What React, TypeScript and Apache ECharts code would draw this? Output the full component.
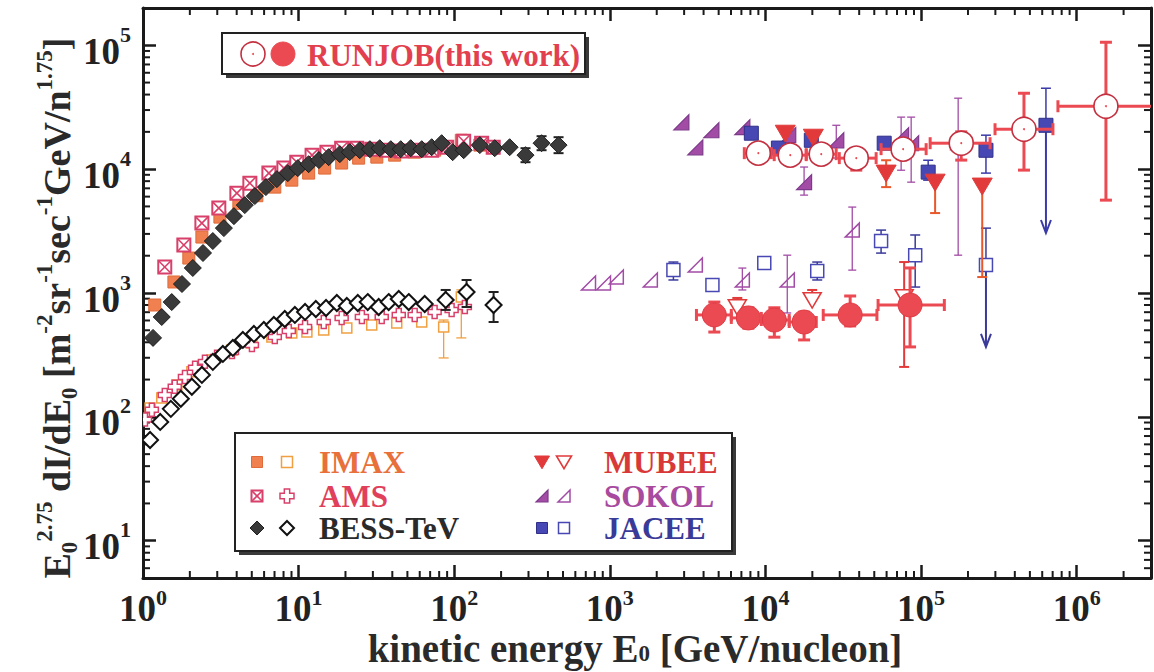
import React, { useEffect, useRef } from 'react';
import * as echarts from 'echarts';

const FONT = '"Liberation Serif", "Times New Roman", Times, serif';

// ---------- axes ----------
const X_MIN = 1;
const X_MAX = 3e6;
const Y_MIN = 5;
const Y_MAX = 2e5;
const MANTISSAS = [2, 3, 4, 5, 6, 7, 8, 9];
const X_DECADES = [1, 10, 100, 1000, 1e4, 1e5, 1e6];
const Y_DECADES = [1, 10, 100, 1000, 1e4, 1e5];

// ---------- BESS-TeV ----------
const bessFilledE = [1.16, 1.32, 1.53, 1.78, 2.09, 2.43, 2.81, 3.31, 3.84, 4.51, 5.23, 6.16, 7.25, 8.52, 9.88, 11.6, 13.5, 15.6, 18.4, 21.3, 24.7, 28.7, 33.2, 39.1, 45.3, 52.5, 61.8, 71.6, 83.0, 97.7, 115, 146, 182, 227, 287, 364, 468];
const bessFilledV = [434, 640, 845, 1182, 1592, 2104, 2627, 3342, 4175, 5124, 6059, 7164, 8303, 9282, 10190, 10970, 11830, 12500, 13220, 13710, 14220, 14490, 14760, 14490, 14490, 14760, 14490, 15030, 16200, 13710, 14220, 15630, 14760, 15030, 12970, 16200, 15630];
const bessFilledVLo = [null, null, null, null, null, null, null, null, null, null, null, null, null, null, null, null, null, null, null, null, null, null, null, null, null, null, null, null, null, null, null, null, null, null, 11380, 14220, 13460];
const bessFilledVHi = [null, null, null, null, null, null, null, null, null, null, null, null, null, null, null, null, null, null, null, null, null, null, null, null, null, null, null, null, null, null, null, null, null, null, 14760, 18450, 18110];

const bessOpenE = [1.11, 1.29, 1.51, 1.75, 2.06, 2.39, 2.81, 3.26, 3.78, 4.38, 5.16, 5.98, 6.93, 8.15, 9.46, 11.0, 12.9, 15.0, 17.6, 20.4, 24.0, 27.8, 32.7, 37.9, 44.0, 51.0, 64.6, 88.1, 120, 179];
const bessOpenV = [65, 91, 116, 140, 175, 218, 278, 322, 360, 418, 467, 503, 552, 617, 665, 703, 743, 757, 830, 785, 830, 845, 771, 845, 895, 845, 815, 879, 1019, 800];
const bessOpenVLo = [null, null, null, null, null, null, null, null, null, null, null, null, null, null, null, null, null, null, null, null, null, null, null, null, null, null, null, 730, 771, 583];
const bessOpenVHi = [null, null, null, null, null, null, null, null, null, null, null, null, null, null, null, null, null, null, null, null, null, null, null, null, null, null, null, 1058, 1274, 1019];

// ---------- IMAX ----------
const imaxFilledE = [1.19, 1.58, 1.97, 2.39, 3.12, 4.13, 5.39, 7.03, 9.04, 11.6, 14.7, 18.9, 24.3, 31.8, 41.4, 55.7, 74.8, 111, 146];
const imaxFilledV = [800, 1227, 1915, 2830, 4100, 5300, 6100, 7160, 8150, 9290, 10200, 11200, 12270, 12500, 12970, 13710, 14220, 17100, 15630];

const imaxOpenE = [1.11, 1.32, 1.65, 2.06, 2.77, 3.73, 5.01, 6.73, 9.04, 11.3, 14.5, 20.4, 29.5, 42.7, 61.8, 85.5, 111];
const imaxOpenV = [118, 142, 181, 231, 288, 347, 395, 442, 476, 484, 503, 522, 552, 573, 583, 532, 929];
const imaxOpenVLo = [null, null, null, null, null, null, null, null, null, null, null, null, null, null, null, 299, 434];
const imaxOpenVHi = [null, null, null, null, null, null, null, null, null, null, null, null, null, null, null, 605, 1060];

// ---------- AMS ----------
const amsFilledE = [1.38, 1.83, 2.39, 3.07, 4.01, 4.86, 6.44, 8.04, 9.73, 12.2, 15.2, 18.9, 23.6, 29.5, 36.8, 45.9, 57.4, 71.6, 89.4, 115, 150, 178];
const amsFilledV = [1622, 2440, 3670, 4850, 6400, 7710, 9290, 10200, 11380, 12970, 13700, 14760, 14760, 14490, 14220, 13980, 14220, 14220, 15030, 16800, 16200, 15030];

const amsOpenE = [1.03, 1.14, 1.38, 1.60, 1.86, 2.16, 2.50, 2.99, 3.73, 5.01, 7.03, 8.65, 11.0, 14.5, 18.9, 25.5, 34.2, 44.0, 55.7, 74.8, 96.2, 117];
const amsOpenV = [95, 114, 150, 175, 210, 249, 278, 305, 334, 381, 442, 494, 532, 583, 628, 640, 640, 665, 665, 703, 730, 771];

// ---------- RUNJOB ----------
const runjobOpenE = [8990, 14420, 22800, 38300, 76600, 181000, 458000, 1540000];
const runjobOpenV = [13460, 12970, 13220, 12270, 14500, 16200, 21000, 32200];
const runjobOpenELo = [7310, 11380, 18270, 29800, 55300, 114300, 298500, 757000];
const runjobOpenEHi = [10900, 18270, 28460, 51400, 107700, 277300, 703000, 4e6];
const runjobOpenVLo = [null, null, null, 9820, null, 11830, 9820, 5620];
const runjobOpenVHi = [null, null, null, null, null, 20000, 41000, 105800];

const runjobFilledE = [4690, 7760, 11400, 17700, 35000, 84900];
const runjobFilledV = [665, 629, 605, 583, 665, 800];
const runjobFilledELo = [3600, 6030, 9400, 14200, 23500, 52900];
const runjobFilledEHi = [6030, 9400, 14200, 21200, 52000, 141000];
const runjobFilledVLo = [484, 520, 440, 418, 542, 367];
const runjobFilledVHi = [845, 760, 760, 700, 946, 1593];

// ---------- MUBEE ----------
const mubeeFilledE = [13400, 20300, 59600, 123000, 247000];
const mubeeFilledV = [19500, 18100, 9290, 7850, 7300];
const mubeeFilledVLo = [null, null, 7160, 4420, 1345];
const mubeeFilledVHi = [null, null, 11800, null, null];

const mubeeOpenE = [6590, 19950, 77800];
const mubeeOpenV = [771, 879, 929];
const mubeeOpenVLo = [null, null, 253];
const mubeeOpenVHi = [912, 1058, 1778];

// ---------- SOKOL ----------
const sokolFilledE = [2880, 3540, 4490, 7100, 14000, 17700, 28500, 74400, 86300, 173000];
const sokolFilledV = [23900, 15000, 20600, 21800, 18800, 7850, 17100, 18800, 16200, 16500];
const sokolFilledVLo = [null, null, null, null, null, 6170, 12300, 9800, 7850, 2020];
const sokolFilledVHi = [null, null, null, null, null, 10400, 22600, 26300, 26300, 37400];

const sokolOpenE = [729, 910, 1100, 1820, 3540, 7100, 13800, 36100];
const sokolOpenV = [1205, 1205, 1345, 1274, 1680, 1274, 1274, 3220];
const sokolOpenVLo = [null, null, null, null, null, 1058, 690, 1530];
const sokolOpenVHi = [null, null, null, null, null, 1590, 2020, 4940];

// ---------- JACEE ----------
const jaceeFilledE = [8110, 12100, 19700, 57900, 111000, 261000, 634000];
const jaceeFilledV = [19500, 14800, 17100, 16200, 9460, 14200, 22600];
const jaceeFilledVLo = [null, null, null, null, 8150, 9290, null];
const jaceeFilledVHi = [null, null, null, null, 11800, 18800, 45000];
const jaceeFilledArrow = [null, null, null, null, null, null, 3050];

const jaceeOpenE = [2560, 4560, 9820, 21500, 55300, 91600, 261000];
const jaceeOpenV = [1530, 1160, 1746, 1503, 2630, 2020, 1680];
const jaceeOpenVLo = [1274, null, null, 1274, 2100, 1117, null];
const jaceeOpenVHi = [1778, null, null, 1778, 3220, 2940, 3340];
const jaceeOpenArrow = [null, null, null, null, null, null, 367];

// ---------- colours ----------
const C = {
  bess: '#3a3a3a',
  imax: '#F08050',
  imaxEdge: '#E06A38',
  imaxOpen: '#F0A040',
  ams: '#D8406A',
  runjob: '#EC4A52',
  runjobEdge: '#C43040',
  mubee: '#E23A3A',
  sokol: '#A24CA6',
  sokolEdge: '#7E3A8A',
  jacee: '#4848B4',
  jaceeEdge: '#30308A',
  ink: '#1a1a1a',
};

// ---------- marker shapes ----------
function mk(kind: string, cx: number, cy: number, s: number, color: string, edge?: string): any[] {
  const e = edge || color;
  switch (kind) {
    case 'sqFill':
      return [{ type: 'rect', shape: { x: cx - s, y: cy - s, width: 2 * s, height: 2 * s }, style: { fill: color, stroke: e, lineWidth: 1 } }];
    case 'sqOpen':
      return [{ type: 'rect', shape: { x: cx - s, y: cy - s, width: 2 * s, height: 2 * s }, style: { fill: '#fff', stroke: color, lineWidth: 1.5 } }];
    case 'sqX':
      return [
        { type: 'rect', shape: { x: cx - s, y: cy - s, width: 2 * s, height: 2 * s }, style: { fill: '#fff', stroke: color, lineWidth: 2 } },
        { type: 'line', shape: { x1: cx - s, y1: cy - s, x2: cx + s, y2: cy + s }, style: { stroke: color, lineWidth: 1.6 } },
        { type: 'line', shape: { x1: cx - s, y1: cy + s, x2: cx + s, y2: cy - s }, style: { stroke: color, lineWidth: 1.6 } },
      ];
    case 'crossOpen': {
      const a = s * 0.38;
      return [{
        type: 'polygon',
        shape: { points: [[cx - a, cy - s], [cx + a, cy - s], [cx + a, cy - a], [cx + s, cy - a], [cx + s, cy + a], [cx + a, cy + a], [cx + a, cy + s], [cx - a, cy + s], [cx - a, cy + a], [cx - s, cy + a], [cx - s, cy - a], [cx - a, cy - a]] },
        style: { fill: '#fff', stroke: color, lineWidth: 1.5 },
      }];
    }
    case 'diaFill':
      return [{ type: 'polygon', shape: { points: [[cx, cy - s], [cx + s, cy], [cx, cy + s], [cx - s, cy]] }, style: { fill: color, stroke: e, lineWidth: 1 } }];
    case 'diaOpen':
      return [{ type: 'polygon', shape: { points: [[cx, cy - s], [cx + s, cy], [cx, cy + s], [cx - s, cy]] }, style: { fill: '#fff', stroke: color, lineWidth: 2 } }];
    case 'circFill':
      return [{ type: 'circle', shape: { cx, cy, r: s }, style: { fill: color, stroke: e, lineWidth: 1 } }];
    case 'circOpen':
      return [
        { type: 'circle', shape: { cx, cy, r: s }, style: { fill: '#fff', stroke: e, lineWidth: 1.6 } },
        { type: 'circle', shape: { cx, cy, r: 1 }, style: { fill: color } },
      ];
    case 'triFill':
      return [{ type: 'polygon', shape: { points: [[cx - s, cy - s * 0.8], [cx + s, cy - s * 0.8], [cx, cy + s * 0.9]] }, style: { fill: color, stroke: e, lineWidth: 1 } }];
    case 'triOpen':
      return [{ type: 'polygon', shape: { points: [[cx - s, cy - s * 0.8], [cx + s, cy - s * 0.8], [cx, cy + s * 0.9]] }, style: { fill: '#fff', stroke: color, lineWidth: 1.6 } }];
    case 'halfFill':
      return [{ type: 'polygon', shape: { points: [[cx - s, cy + s], [cx + s, cy + s], [cx + s, cy - s]] }, style: { fill: color, stroke: e, lineWidth: 1.2 } }];
    case 'halfOpen':
      return [{ type: 'polygon', shape: { points: [[cx - s, cy + s], [cx + s, cy + s], [cx + s, cy - s]] }, style: { fill: 'none', stroke: color, lineWidth: 1.5 } }];
    default:
      return [];
  }
}

interface SeriesOpt {
  kind: string;
  size: number;
  color: string;
  edge?: string;
  errColor?: string;
  errWidth?: number;
  cap?: number;
  z: number;
  eLo?: (number | null)[];
  eHi?: (number | null)[];
  vLo?: (number | null)[];
  vHi?: (number | null)[];
  arrow?: (number | null)[];
}

function errSeries(name: string, E: number[], V: number[], o: SeriesOpt): any {
  const data = E.map((e, i) => [
    e,
    V[i],
    (o.eLo && o.eLo[i]) || 0,
    (o.eHi && o.eHi[i]) || 0,
    (o.vLo && o.vLo[i]) || 0,
    (o.vHi && o.vHi[i]) || 0,
    (o.arrow && o.arrow[i]) || 0,
  ]);
  const ec = o.errColor || o.color;
  const ew = o.errWidth || 1.5;
  const cap = o.cap || 5;
  return {
    type: 'custom',
    name,
    coordinateSystem: 'cartesian2d',
    xAxisIndex: 0,
    yAxisIndex: 0,
    clip: true,
    silent: true,
    z: o.z,
    encode: { x: 0, y: 1 },
    data,
    renderItem: (params: any, api: any) => {
      const E0 = api.value(0);
      const V0 = api.value(1);
      const p = api.coord([E0, V0]);
      const ch: any[] = [];
      const L = (x1: number, y1: number, x2: number, y2: number, w = ew, c = ec) =>
        ch.push({ type: 'line', shape: { x1, y1, x2, y2 }, style: { stroke: c, lineWidth: w } });
      const eLo = api.value(2), eHi = api.value(3), vLo = api.value(4), vHi = api.value(5), ar = api.value(6);
      if (eLo > 0) {
        const x = api.coord([eLo, V0])[0];
        L(x, p[1], p[0], p[1]);
        L(x, p[1] - cap, x, p[1] + cap);
      }
      if (eHi > 0) {
        const x = api.coord([eHi, V0])[0];
        L(p[0], p[1], x, p[1]);
        L(x, p[1] - cap, x, p[1] + cap);
      }
      if (vLo > 0) {
        const y = api.coord([E0, vLo])[1];
        L(p[0], p[1], p[0], y);
        L(p[0] - cap, y, p[0] + cap, y);
      }
      if (vHi > 0) {
        const y = api.coord([E0, vHi])[1];
        L(p[0], p[1], p[0], y);
        L(p[0] - cap, y, p[0] + cap, y);
      }
      if (ar > 0) {
        const y = api.coord([E0, ar])[1];
        L(p[0], p[1], p[0], y, 2);
        ch.push({ type: 'polyline', shape: { points: [[p[0] - 5, y - 13], [p[0], y], [p[0] + 5, y - 13]] }, style: { stroke: ec, lineWidth: 2, fill: 'none' } });
      }
      ch.push(...mk(o.kind, p[0], p[1], o.size, o.color, o.edge));
      return { type: 'group', children: ch };
    },
  };
}

function minorSeries(axis: 'x' | 'y'): any {
  const vals: number[] = [];
  const decs = axis === 'x' ? X_DECADES : Y_DECADES;
  const lo = axis === 'x' ? X_MIN : Y_MIN;
  const hi = axis === 'x' ? X_MAX : Y_MAX;
  decs.forEach((d) => MANTISSAS.forEach((m) => {
    const v = m * d;
    if (v > lo && v < hi) vals.push(v);
  }));
  const data = vals.map((v) => (axis === 'x' ? [v, 100] : [10, v]));
  return {
    type: 'custom',
    coordinateSystem: 'cartesian2d',
    silent: true,
    z: 1,
    encode: { x: 0, y: 1 },
    data,
    renderItem: (params: any, api: any) => {
      const cs = params.coordSys;
      const p = api.coord([api.value(0), api.value(1)]);
      const len = 7;
      const st = { stroke: C.ink, lineWidth: 2 };
      if (axis === 'x') {
        const b = cs.y + cs.height;
        return {
          type: 'group', children: [
            { type: 'line', shape: { x1: p[0], y1: b, x2: p[0], y2: b - len }, style: st },
            { type: 'line', shape: { x1: p[0], y1: cs.y, x2: p[0], y2: cs.y + len }, style: st },
          ],
        };
      }
      const r = cs.x + cs.width;
      return {
        type: 'group', children: [
          { type: 'line', shape: { x1: cs.x, y1: p[1], x2: cs.x + len, y2: p[1] }, style: st },
          { type: 'line', shape: { x1: r, y1: p[1], x2: r - len, y2: p[1] }, style: st },
        ],
      };
    },
  };
}

const yLabelRich = {
  b: { fontSize: 37, fontWeight: 'bold', fontFamily: FONT, color: '#222', lineHeight: 56 },
  s: { fontSize: 22, fontWeight: 'bold', fontFamily: FONT, color: '#222', lineHeight: 22, verticalAlign: 'top' },
};
const xLabelRich = {
  b: { fontSize: 37, fontWeight: 'bold', fontFamily: FONT, color: '#222', lineHeight: 44 },
  s: { fontSize: 22, fontWeight: 'bold', fontFamily: FONT, color: '#222', lineHeight: 18, verticalAlign: 'top' },
};
const powLabel = (v: number) => `{b|10}{s|${Math.round(Math.log10(v))}}`;

function axisCommon(show: boolean) {
  return {
    type: 'log',
    logBase: 10,
    axisLine: { show: true, onZero: false, lineStyle: { color: C.ink, width: 3 } },
    axisTick: { show: true, inside: true, length: 13, lineStyle: { color: C.ink, width: 2.5 } },
    splitLine: { show: false },
    minorTick: { show: false },
    axisLabel: show ? {} : { show: false },
  };
}

function legendGraphics(): any[] {
  const els: any[] = [];
  const txt = (x: number, y: number, text: string, fill: string, size: number) => els.push({
    type: 'text', x, y, z: 100,
    style: { text, fill, fontSize: size, fontWeight: 'bold', fontFamily: FONT, align: 'left', verticalAlign: 'middle' },
  });
  const add = (arr: any[]) => arr.forEach((a) => els.push({ ...a, z: 100 }));
  // RUNJOB box
  els.push({ type: 'rect', z: 99, shape: { x: 226, y: 37, width: 363, height: 41 }, style: { fill: '#3a3a3a' } });
  els.push({ type: 'rect', z: 99, shape: { x: 222, y: 33, width: 363, height: 41 }, style: { fill: '#fff', stroke: '#222', lineWidth: 2 } });
  add(mk('circOpen', 253, 54, 12, C.runjob, C.runjobEdge));
  add(mk('circFill', 283, 54, 12, C.runjob, C.runjob));
  txt(307, 55, 'RUNJOB(this work)', '#E2404E', 31);
  // lower legend box
  els.push({ type: 'rect', z: 99, shape: { x: 239, y: 437, width: 497, height: 118 }, style: { fill: '#3a3a3a' } });
  els.push({ type: 'rect', z: 99, shape: { x: 235, y: 433, width: 497, height: 118 }, style: { fill: '#fff', stroke: '#222', lineWidth: 2 } });
  const r1 = 462, r2 = 496, r3 = 528;
  add(mk('sqFill', 257, r1, 5.5, C.imax, C.imaxEdge));
  add(mk('sqOpen', 287, r1, 5.5, C.imaxOpen));
  txt(319, r1, 'IMAX', '#E8703A', 31);
  add(mk('sqX', 257, r2, 5.5, C.ams));
  add(mk('crossOpen', 287, r2, 7, C.ams));
  txt(319, r2, 'AMS', '#E0405A', 31);
  add(mk('diaFill', 257, r3, 7, C.bess, '#222'));
  add(mk('diaOpen', 287, r3, 7, '#111'));
  txt(319, r3, 'BESS-TeV', '#2a2a2a', 31);
  add(mk('triFill', 542, r1, 7.5, C.mubee));
  add(mk('triOpen', 564, r1, 7.5, C.mubee));
  txt(604, r1, 'MUBEE', '#D83838', 31);
  add(mk('halfFill', 542, r2, 6, C.sokol, C.sokolEdge));
  add(mk('halfOpen', 564, r2, 6, C.sokol));
  txt(604, r2, 'SOKOL', '#A84A9E', 31);
  add(mk('sqFill', 542, r3, 5.5, C.jacee, C.jaceeEdge));
  add(mk('sqOpen', 564, r3, 5.5, C.jacee));
  txt(604, r3, 'JACEE', '#3A3A98', 31);
  return els;
}

function titleGraphics(): any[] {
  const t = { fontSize: 38, fontWeight: 'bold', fontFamily: FONT, fill: '#2a2a2a', color: '#2a2a2a', lineHeight: 48 };
  const sup = { fontSize: 23, fontWeight: 'bold', fontFamily: FONT, fill: '#2a2a2a', color: '#2a2a2a', lineHeight: 20, verticalAlign: 'top' };
  const sub = { fontSize: 23, fontWeight: 'bold', fontFamily: FONT, fill: '#2a2a2a', color: '#2a2a2a', lineHeight: 20, verticalAlign: 'bottom' };
  return [
    {
      type: 'text', x: 635, y: 648, z: 100,
      style: {
        text: '{t|kinetic energy E}{s|0}{t| [GeV/nucleon]}',
        rich: { t: { ...t, fontSize: 39, lineHeight: 34 }, s: { ...sub, fontSize: 23, lineHeight: 4 } },
        align: 'center', verticalAlign: 'middle',
      },
    },
    {
      type: 'text', x: 57, y: 308, z: 100, rotation: Math.PI / 2,
      style: {
        text: '{t|E}{s|0}{p|2.75}{t| dI/dE}{s|0}{t| [m}{p|-2}{t|sr}{p|-1}{t|sec}{p|-1}{t|GeV/n}{p|1.75}{t|]}',
        rich: { t, s: sub, p: sup },
        align: 'center', verticalAlign: 'middle',
      },
    },
  ];
}

function buildOption(): any {
  const xBottom = {
    ...axisCommon(true), min: X_MIN, max: X_MAX, splitNumber: 7, position: 'bottom',
    axisLabel: { formatter: powLabel, rich: xLabelRich, margin: 8, showMaxLabel: false, color: '#222' },
  };
  const xTop = { ...axisCommon(false), min: X_MIN, max: X_MAX, splitNumber: 7, position: 'top' };
  const yLeft = {
    ...axisCommon(true), min: Y_MIN, max: Y_MAX, splitNumber: 5, position: 'left',
    axisLabel: { formatter: powLabel, rich: yLabelRich, margin: 12, showMinLabel: false, showMaxLabel: false, padding: [12, 0, 0, 0], color: '#222' },
  };
  const yRight = { ...axisCommon(false), min: Y_MIN, max: Y_MAX, splitNumber: 5, position: 'right' };

  const series = [
    minorSeries('x'),
    minorSeries('y'),
    errSeries('IMAX open', imaxOpenE, imaxOpenV, { kind: 'sqOpen', size: 5, color: C.imaxOpen, z: 3, vLo: imaxOpenVLo, vHi: imaxOpenVHi, errWidth: 1.3 }),
    errSeries('AMS open', amsOpenE, amsOpenV, { kind: 'crossOpen', size: 6.5, color: C.ams, z: 4 }),
    errSeries('BESS-TeV open', bessOpenE, bessOpenV, { kind: 'diaOpen', size: 8, color: '#111', z: 5, vLo: bessOpenVLo, vHi: bessOpenVHi, errColor: '#222', errWidth: 2 }),
    errSeries('IMAX', imaxFilledE, imaxFilledV, { kind: 'sqFill', size: 6, color: C.imax, edge: C.imaxEdge, z: 6 }),
    errSeries('AMS', amsFilledE, amsFilledV, { kind: 'sqX', size: 6.5, color: C.ams, z: 7 }),
    errSeries('BESS-TeV', bessFilledE, bessFilledV, { kind: 'diaFill', size: 8.5, color: C.bess, edge: '#1e1e1e', z: 8, vLo: bessFilledVLo, vHi: bessFilledVHi, errColor: '#222', errWidth: 2 }),
    errSeries('SOKOL open', sokolOpenE, sokolOpenV, { kind: 'halfOpen', size: 7, color: C.sokol, z: 9, vLo: sokolOpenVLo, vHi: sokolOpenVHi, errWidth: 1.3, cap: 4 }),
    errSeries('JACEE open', jaceeOpenE, jaceeOpenV, { kind: 'sqOpen', size: 6.5, color: C.jacee, z: 10, vLo: jaceeOpenVLo, vHi: jaceeOpenVHi, arrow: jaceeOpenArrow, errColor: '#3a3a9a', errWidth: 1.5 }),
    errSeries('SOKOL', sokolFilledE, sokolFilledV, { kind: 'halfFill', size: 7.5, color: C.sokol, edge: C.sokolEdge, z: 11, vLo: sokolFilledVLo, vHi: sokolFilledVHi, errWidth: 1.3, cap: 4 }),
    errSeries('JACEE', jaceeFilledE, jaceeFilledV, { kind: 'sqFill', size: 7, color: C.jacee, edge: C.jaceeEdge, z: 12, vLo: jaceeFilledVLo, vHi: jaceeFilledVHi, arrow: jaceeFilledArrow, errColor: '#3a3aa8', errWidth: 1.5 }),
    errSeries('MUBEE open', mubeeOpenE, mubeeOpenV, { kind: 'triOpen', size: 9, color: C.mubee, z: 13, vLo: mubeeOpenVLo, vHi: mubeeOpenVHi, errWidth: 2 }),
    errSeries('MUBEE', mubeeFilledE, mubeeFilledV, { kind: 'triFill', size: 10, color: C.mubee, z: 14, vLo: mubeeFilledVLo, vHi: mubeeFilledVHi, errColor: '#E8582A', errWidth: 2 }),
    errSeries('RUNJOB filled', runjobFilledE, runjobFilledV, { kind: 'circFill', size: 12, color: C.runjob, edge: '#E03A44', z: 15, eLo: runjobFilledELo, eHi: runjobFilledEHi, vLo: runjobFilledVLo, vHi: runjobFilledVHi, errWidth: 3, cap: 6 }),
    errSeries('RUNJOB open', runjobOpenE, runjobOpenV, { kind: 'circOpen', size: 12, color: C.runjob, edge: C.runjobEdge, z: 16, eLo: runjobOpenELo, eHi: runjobOpenEHi, vLo: runjobOpenVLo, vHi: runjobOpenVHi, errWidth: 3, cap: 6 }),
  ];

  return {
    animation: false,
    backgroundColor: '#ffffff',
    textStyle: { fontFamily: FONT },
    grid: { left: 143, right: 3, top: 8, bottom: 94 },
    xAxis: [xBottom, xTop],
    yAxis: [yLeft, yRight],
    series,
    graphic: { elements: [...legendGraphics(), ...titleGraphics()] },
  };
}

export default function App() {
  const ref = useRef<HTMLDivElement>(null);
  useEffect(() => {
    if (!ref.current) return;
    const chart = echarts.init(ref.current, undefined, { renderer: 'svg' });
    chart.setOption(buildOption());
    return () => chart.dispose();
  }, []);
  return <div ref={ref} style={{ position: 'absolute', left: 0, top: 0, width: 1154, height: 672, background: '#fff' }} />;
}
